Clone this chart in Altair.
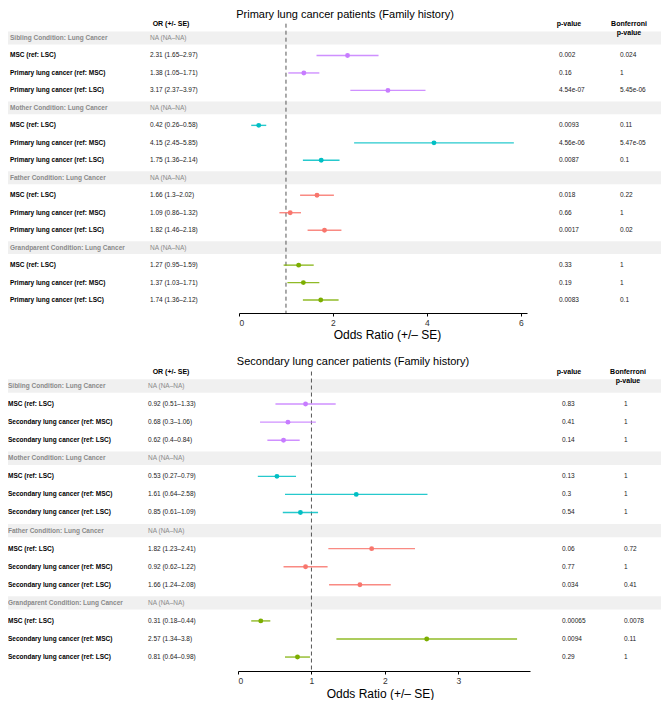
import altair as alt
import pandas as pd

# ---------------- data ----------------
groups = ["Sibling", "Mother", "Father", "Grandparent"]
group_colors = ["#C77CFF", "#00BFC4", "#F8766D", "#7CAE00"]

top_title = "Primary lung cancer patients (Family history)"
top_comparisons = ["MSC (ref: LSC)", "Primary lung cancer (ref: MSC)", "Primary lung cancer (ref: LSC)"]
top_or = [2.31, 1.38, 3.17, 0.42, 4.15, 1.75, 1.66, 1.09, 1.82, 1.27, 1.37, 1.74]
top_lo = [1.65, 1.05, 2.37, 0.26, 2.45, 1.36, 1.3, 0.86, 1.46, 0.95, 1.03, 1.36]
top_hi = [2.97, 1.71, 3.97, 0.58, 5.85, 2.14, 2.02, 1.32, 2.18, 1.59, 1.71, 2.12]
top_p = ["0.002", "0.16", "4.54e-07", "0.0093", "4.56e-06", "0.0087",
         "0.018", "0.66", "0.0017", "0.33", "0.19", "0.0083"]
top_bonf = ["0.024", "1", "5.45e-06", "0.11", "5.47e-05", "0.1",
            "0.22", "1", "0.02", "1", "1", "0.1"]
top_ticks = [0, 2, 4, 6]

bot_title = "Secondary lung cancer patients (Family history)"
bot_comparisons = ["MSC (ref: LSC)", "Secondary lung cancer (ref: MSC)", "Secondary lung cancer (ref: LSC)"]
bot_or = [0.92, 0.68, 0.62, 0.53, 1.61, 0.85, 1.82, 0.92, 1.66, 0.31, 2.57, 0.81]
bot_lo = [0.51, 0.3, 0.4, 0.27, 0.64, 0.61, 1.23, 0.62, 1.24, 0.18, 1.34, 0.64]
bot_hi = [1.33, 1.06, 0.84, 0.79, 2.58, 1.09, 2.41, 1.22, 2.08, 0.44, 3.8, 0.98]
bot_p = ["0.83", "0.41", "0.14", "0.13", "0.3", "0.54",
         "0.06", "0.77", "0.034", "0.00065", "0.0094", "0.29"]
bot_bonf = ["1", "1", "1", "1", "1", "1",
            "0.72", "1", "0.41", "0.0078", "0.11", "1"]
bot_ticks = [0, 1, 2, 3]

FONT = "Liberation Sans"
W = 653


def build_panel(title, comps, ors, los, his, ps, bonfs, ticks, lay):
    headers, rows = [], []
    for gi, g in enumerate(groups):
        headers.append({"row": gi * 4, "label": f"{g} Condition: Lung Cancer",
                        "ortext": "NA (NA\u2013NA)", "group": g})
        for ci, c in enumerate(comps):
            k = gi * 3 + ci
            rows.append({"row": gi * 4 + ci + 1, "label": c, "group": g,
                         "or": ors[k], "lo": los[k], "hi": his[k],
                         "ortext": f"{ors[k]} ({los[k]}\u2013{his[k]})",
                         "p": ps[k], "bonf": bonfs[k]})
    hdf = pd.DataFrame(headers)
    rdf = pd.DataFrame(rows)

    yscale = alt.Scale(domain=lay["ydom"], reverse=True, nice=False, zero=False)
    xscale = alt.Scale(domain=lay["xdom"], range=lay["xrange"], nice=False, zero=False)
    xaxis = alt.Axis(values=ticks, format="d", title="Odds Ratio (+/\u2013 SE)",
                     grid=False, domainColor="#000000", domainWidth=1.2,
                     tickColor="#000000", tickSize=3, tickWidth=1,
                     labelFont=FONT, labelFontSize=8.5, labelColor="#333333",
                     labelPadding=2, titleFont=FONT, titleFontSize=12,
                     titleFontWeight="normal", titleColor="#000000",
                     titlePadding=lay["title_pad"], titleX=lay["title_x"])
    color = alt.Color("group:N", scale=alt.Scale(domain=groups, range=group_colors), legend=None)

    y = alt.Y("row:Q", scale=yscale, axis=None)

    band = alt.Chart(hdf).transform_calculate(
        r0="datum.row - 0.37", r1="datum.row + 0.37"
    ).mark_rect(color="#F0F0F0").encode(
        x=alt.value(0), x2=alt.value(W),
        y=alt.Y("r0:Q", scale=yscale, axis=None), y2="r1:Q")

    def txt(df, field, xpos, color_, weight="normal", size=6.5, align="left"):
        return alt.Chart(df).mark_text(align=align, baseline="middle", font=FONT,
                                       fontSize=size, fontWeight=weight, color=color_).encode(
            x=alt.value(xpos), y=y, text=f"{field}:N")

    hlabel = txt(hdf, "label", lay["lab_x"], "#8a8a8a", "bold")
    hna = txt(hdf, "ortext", lay["or_x"], "#8a8a8a")
    rlabel = txt(rdf, "label", lay["lab_x"], "#000000", "bold")
    rortext = txt(rdf, "ortext", lay["or_x"], "#222222")
    rp = txt(rdf, "p", lay["p_x"], "#222222")
    rb = txt(rdf, "bonf", lay["b_x"], "#222222")

    ref = alt.Chart(pd.DataFrame({"x": [1], "y0": [lay["dash_top"]], "y1": [lay["ydom"][1]]})).mark_rule(
        color="#555555", strokeDash=[4, 3], strokeWidth=1).encode(
        x=alt.X("x:Q", scale=xscale, axis=xaxis),
        y=alt.Y("y0:Q", scale=yscale, axis=None), y2="y1:Q")

    err = alt.Chart(rdf).mark_rule(strokeWidth=1.4, opacity=0.85).encode(
        x=alt.X("lo:Q", scale=xscale, axis=xaxis),
        x2="hi:Q", y=y, color=color)
    pts = alt.Chart(rdf).mark_point(filled=True, shape="circle", size=24, opacity=1).encode(
        x=alt.X("or:Q", scale=xscale, axis=xaxis), y=y, color=color)

    hrow = pd.DataFrame({"row": [lay["head_row"]], "a": ["OR (+/- SE)"], "b": ["p-value"],
                         "c": ["Bonferroni\np-value"]})
    orh = txt(hrow, "a", lay["orh_x"], "#000000", "bold", 7, "center")
    ph = txt(hrow, "b", lay["ph_x"], "#000000", "bold", 7, "center")
    bh = alt.Chart(hrow).mark_text(
        align="center", baseline="middle", font=FONT, fontSize=7, fontWeight="bold",
        color="#000000", lineBreak="\n", lineHeight=9).encode(
        x=alt.value(lay["bh_x"]), y=y, text="c:N")

    trow = pd.DataFrame({"row": [lay["title_row"]], "t": [title]})
    ttl = txt(trow, "t", lay["t_x"], "#000000", "normal", 11, "center")

    return alt.layer(band, hlabel, hna, rlabel, rortext, rp, rb, ref, err, pts,
                     orh, ph, bh, ttl).properties(width=W, height=lay["height"])


top_layout = dict(height=303, ydom=[-1.603, 15.74], xdom=[0, 6.13], xrange=[231, 519],
                  lab_x=2, or_x=142, p_x=551, b_x=612, orh_x=163, ph_x=561, bh_x=621,
                  t_x=337, head_row=-0.8, title_row=-1.33, dash_top=-0.82, title_x=379,
                  title_pad=3)
bot_layout = dict(height=317, ydom=[-1.771, 15.772], xdom=[0, 3.976], xrange=[230, 522],
                  lab_x=0, or_x=140, p_x=554, b_x=616, orh_x=163, ph_x=561, bh_x=620,
                  t_x=345, head_row=-0.8, title_row=-1.33, dash_top=-0.8, title_x=372,
                  title_pad=4)

top = build_panel(top_title, top_comparisons, top_or, top_lo, top_hi, top_p, top_bonf, top_ticks, top_layout)
bot = build_panel(bot_title, bot_comparisons, bot_or, bot_lo, bot_hi, bot_p, bot_bonf, bot_ticks, bot_layout)

chart = alt.vconcat(top, bot, spacing=13).properties(padding=0).configure_view(
    stroke=None).configure_axis(grid=False)

chart.save("out.html", embed_options={"renderer": "svg", "actions": False})
